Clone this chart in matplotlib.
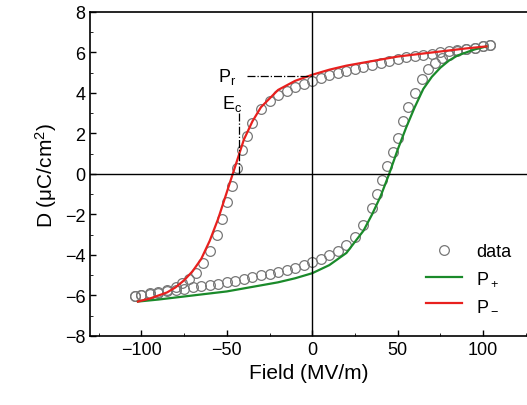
import matplotlib
matplotlib.use("Agg")
import matplotlib.pyplot as plt
plt.rcParams['font.family'] = ['Liberation Sans', 'DejaVu Sans']
plt.rcParams['mathtext.fontset'] = 'custom'
plt.rcParams['mathtext.rm'] = 'Liberation Sans'
plt.rcParams['mathtext.it'] = 'Liberation Sans'

# data: upper branch (field decreasing), lower branch (field increasing)
up_E = [104,100,95,90,85,80,75,70,65,60,55,50,45,40,35,30,25,20,15,10,5,0,-5,-10,-15,-20,-25,-30,-35,-38,-41,-44,-47,-50,-53,-56,-60,-64,-68,-72,-76,-80,-85,-90,-95,-100,-104]
up_D = [6.35,6.3,6.2,6.15,6.1,6.05,6.0,5.95,5.9,5.85,5.8,5.7,5.6,5.5,5.4,5.3,5.2,5.1,5.0,4.9,4.75,4.6,4.45,4.3,4.1,3.9,3.6,3.2,2.5,1.9,1.2,0.3,-0.6,-1.4,-2.2,-3.0,-3.8,-4.4,-4.9,-5.2,-5.4,-5.6,-5.75,-5.85,-5.9,-6.0,-6.05]
lo_E = [-104,-100,-95,-90,-85,-80,-75,-70,-65,-60,-55,-50,-45,-40,-35,-30,-25,-20,-15,-10,-5,0,5,10,15,20,25,30,35,38,41,44,47,50,53,56,60,64,68,72,76,80,85,90,95,100,104]
lo_D = [-6.05,-6.0,-5.95,-5.9,-5.8,-5.75,-5.7,-5.6,-5.55,-5.5,-5.45,-5.35,-5.3,-5.2,-5.1,-5.0,-4.95,-4.85,-4.75,-4.65,-4.5,-4.35,-4.2,-4.0,-3.8,-3.5,-3.1,-2.5,-1.7,-1.0,-0.3,0.4,1.1,1.8,2.6,3.3,4.0,4.7,5.2,5.5,5.75,5.9,6.05,6.15,6.2,6.3,6.35]
# fits
pm_E = [102,90,80,70,60,50,40,30,20,10,0,-10,-20,-30,-35,-40,-45,-50,-55,-60,-65,-70,-75,-80,-85,-90,-95,-102]
pm_D = [6.3,6.2,6.1,6.0,5.9,5.8,5.65,5.5,5.35,5.15,4.9,4.6,4.15,3.3,2.6,1.7,0.4,-0.9,-2.2,-3.3,-4.2,-4.8,-5.25,-5.6,-5.85,-6.0,-6.15,-6.3]
pp_E = [-102,-90,-80,-70,-60,-50,-40,-30,-20,-10,0,10,20,30,35,40,45,50,55,60,65,70,75,80,85,90,95,102]
pp_D = [-6.3,-6.2,-6.1,-6.0,-5.9,-5.8,-5.65,-5.5,-5.35,-5.15,-4.9,-4.5,-3.9,-2.8,-2.0,-1.1,0.0,1.2,2.3,3.3,4.2,4.8,5.25,5.6,5.85,6.0,6.15,6.3]

fig = plt.figure(figsize=(5.27, 4.06), dpi=100)
ax = fig.add_axes([0.171, 0.17, 0.83, 0.798])
ax.plot(up_E, up_D, 'o', mfc='none', mec='#777777', ms=7, mew=0.9, label='data')
ax.plot(lo_E, lo_D, 'o', mfc='none', mec='#777777', ms=7, mew=0.9)
ax.plot(pp_E, pp_D, color='#1a8a2a', lw=1.6, label='P$_+$')
ax.plot(pm_E, pm_D, color='#e8201e', lw=1.6, label='P$_-$')
ax.axhline(0, color='black', lw=1)
ax.axvline(0, color='black', lw=1)
ax.plot([-38, 0], [4.85, 4.85], color='black', lw=0.9, ls='-.')
ax.plot([-43, -43], [0, 3.0], color='black', lw=0.9, ls='-.')
ax.text(-55, 4.85, 'P$_r$', fontsize=13, va='center')
ax.text(-53, 3.5, 'E$_c$', fontsize=13, va='center')
ax.set_xlim(-130, 126)
ax.set_ylim(-8, 8)
ax.set_xticks([-100, -50, 0, 50, 100])
ax.set_xticks([-125, -75, -25, 25, 75, 125], minor=True)
ax.set_yticks(range(-8, 9, 2))
ax.set_yticks(range(-7, 8, 2), minor=True)
ax.tick_params(labelsize=13, direction='in', length=4, width=1)
ax.tick_params(which='minor', direction='in', length=2.5)
ax.set_xlabel('Field (MV/m)', fontsize=15)
ax.set_ylabel('D (μC/cm$^2$)', fontsize=15)
for s in ax.spines.values():
    s.set_linewidth(1.2)
ax.legend(loc='lower right', frameon=False, fontsize=13, bbox_to_anchor=(1.0, 0.02))
fig.savefig('out.png', dpi=100)
